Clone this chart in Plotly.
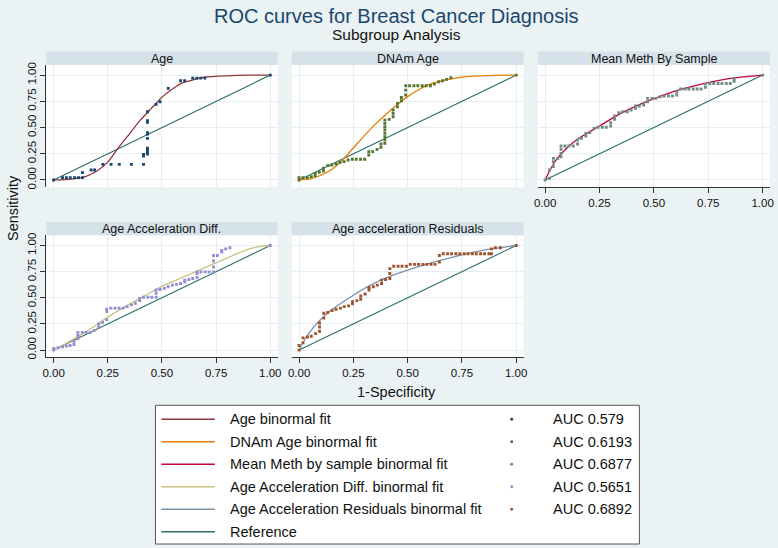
import plotly.graph_objects as go

W, H = 778, 548
FONT = "Liberation Sans, Arial, sans-serif"

# ---- data ----
TICK_VALS = [0, 0.25, 0.5, 0.75, 1]
TICK_TEXT = ["0.00", "0.25", "0.50", "0.75", "1.00"]
REF_X = [0, 1]
REF_Y = [0, 1]

# Age
age_x = [0, .041, .059, .077, .097, .115, .133, .133, .173, .189, .227, .265, .303, .359,
         .415, .415, .415, .433, .433, .433, .433, .433, .433, .433, .433, .433, .433,
         .473, .491, .529, .586, .605, .642, .661, .679, .698, 1]
age_y = [0, .022, .022, .022, .022, .022, .022, .07, .095, .095, .149, .149, .149, .149,
         .149, .229, .244, .248, .263, .286, .302, .397, .438, .451, .549, .565, .651,
         .721, .746, .873, .946, .946, .971, .971, .971, .971, 1]
age_fit_x = [0, .05, .1, .15, .2, .25, .3, .35, .4, .45, .5, .55, .6, .7, .8, .9, 1]
age_fit_y = [0, .003, .012, .035, .085, .17, .31, .44, .57, .68, .79, .87, .93, .98, .993, .999, 1]

# DNAm Age
dn_x = [0, 0, .018, .038, .056, .074, .074, .093, .112, .112, .132, .150, .170, .188, .207,
        .226, .245, .263, .283, .302, .321, .321, .339, .359, .377, .377,
        .395, .395, .395, .395, .395, .395, .395, .395, .415, .433, .433, .433,
        .453, .453, .471, .471, .491, .491, .491, .509, .529, .547, .567, .585, .605,
        .623, .643, .661, .679, .699, 1]
dn_y = [0, .022, .022, .022, .032, .041, .063, .073, .086, .111, .137, .143, .152, .165, .175,
        .19, .197, .197, .197, .197, .238, .27, .27, .292, .311, .343,
        .349, .381, .413, .444, .476, .508, .54, .571, .578, .603, .635, .667,
        .698, .73, .756, .787, .81, .857, .898, .898, .898, .898, .898, .898, .898,
        .914, .937, .946, .959, .975, 1]
dn_fit_x = [0, .05, .1, .15, .2, .25, .3, .35, .4, .45, .5, .55, .6, .7, .8, .9, 1]
dn_fit_y = [0, .01, .045, .1, .19, .305, .42, .53, .625, .715, .795, .86, .912, .965, .99, .998, 1]

# Mean Meth By Sample
mm_x = [0, .02, .02, .038, .038, .038, .058, .073, .073, .073, .073, .091, .109, .129, .149, .149,
        .167, .187, .187, .205, .225, .243, .263, .281, .301, .301, .319, .319, .339, .357,
        .377, .395, .415, .415, .433, .453, .453, .471, .471, .491, .509, .529, .547, .567,
        .585, .605, .605, .623, .643, .661, .681, .699, .717, .737, .737, .757, .775, .795,
        .813, .833, .851, .869, .869, 1]
mm_y = [0, .016, .095, .127, .175, .206, .206, .222, .254, .292, .324, .324, .324, .324, .343, .381,
        .397, .419, .444, .451, .492, .502, .502, .502, .514, .546, .578, .61, .641, .651,
        .651, .667, .683, .705, .705, .714, .73, .746, .778, .778, .778, .794, .8, .8,
        .8, .81, .841, .867, .867, .867, .867, .867, .867, .883, .914, .92, .92, .92,
        .92, .92, .92, .94, .965, 1]
mm_fit_x = [0, .02, .05, .1, .15, .2, .25, .3, .35, .4, .5, .6, .7, .8, .9, 1]
mm_fit_y = [0, .085, .19, .305, .39, .455, .515, .578, .637, .688, .775, .85, .905, .95, .98, 1]

# Age Acceleration Diff.
ad_x = [0, 0, .021, .041, .059, .076, .094, .094, .112, .112, .112, .132, .15, .17, .188,
        .208, .208, .226, .245, .245, .245, .264, .283, .302, .321, .339, .359, .377,
        .397, .397, .415, .435, .453, .473, .473, .473, .491, .511, .529, .548, .567,
        .586, .605, .605, .624, .642, .662, .662, .662, .68, .7, .718, .738, .738, .738,
        .738, .756, .776, .776, .794, .814, 1]
ad_y = [0, .016, .022, .032, .038, .044, .054, .085, .107, .139, .17, .17, .17, .17, .189,
        .221, .252, .265, .29, .369, .391, .401, .401, .401, .401, .416, .432, .448,
        .473, .495, .505, .505, .505, .505, .543, .574, .58, .59, .606, .621, .628,
        .637, .653, .669, .675, .685, .694, .732, .748, .748, .748, .748, .748, .795,
        .852, .905, .905, .937, .953, .968, .978, 1]
ad_fit_x = [0, .05, .1, .15, .2, .25, .3, .35, .4, .45, .5, .55, .6, .65, .7, .75, .8, .85, .9, .95, 1]
ad_fit_y = [0, .055, .115, .175, .245, .315, .38, .44, .495, .553, .61, .655, .7, .745, .79, .835, .88,
            .925, .965, .99, 1]

# Age acceleration Residuals
rs_x = [0, 0, .018, .018, .038, .056, .076, .094, .094, .094, .114, .114, .132, .152, .17, .19,
        .208, .228, .246, .246, .266, .284, .284, .304, .322, .322, .342, .36, .38, .38, .398,
        .418, .418, .418, .436, .456, .474, .494, .512, .532, .55, .57, .588, .608, .626,
        .646, .646, .664, .684, .702, .722, .74, .76, .778, .798, .816, .836, .854, .874,
        .886, .886, .904, .927, 1]
rs_y = [0, .044, .069, .117, .126, .132, .158, .18, .221, .259, .306, .353, .36, .379, .391, .401,
        .416, .423, .442, .464, .473, .486, .517, .536, .574, .599, .606, .621, .637, .669, .675,
        .685, .732, .779, .801, .801, .801, .801, .82, .82, .82, .82, .82, .82, .82,
        .842, .905, .921, .921, .921, .921, .921, .921, .921, .921, .921, .921, .921, .921,
        .921, .968, .978, .978, 1]
rs_fit_x = [0, .02, .05, .1, .15, .2, .25, .3, .35, .4, .5, .6, .7, .8, .9, 1]
rs_fit_y = [0, .08, .175, .295, .385, .458, .525, .588, .643, .69, .765, .83, .885, .935, .972, 1]

panel_titles = ["Age", "DNAm Age", "Mean Meth By Sample", "Age Acceleration Diff.",
                "Age acceleration Residuals"]
legend_labels = ["Age binormal fit", "DNAm Age binormal fit", "Mean Meth by sample binormal fit",
                 "Age Acceleration Diff. binormal fit", "Age Acceleration Residuals binormal fit",
                 "Reference"]
auc_labels = ["AUC 0.579", "AUC 0.6193", "AUC 0.6877", "AUC 0.5651", "AUC 0.6892"]

# ---- styling / layout ----
BG = "#eaf2f3"
STRIP = "#d6e2e9"
GRID = "#e6eef1"
AXIS = "#333333"
REF_COLOR = "#2d6d66"
point_colors = ["#1a476f", "#55752f", "#6e8e84", "#938dd2", "#a0522d"]
fit_colors = ["#90353b", "#e37e00", "#c10534", "#cac27e", "#7b92a8"]

series = [(age_x, age_y, age_fit_x, age_fit_y), (dn_x, dn_y, dn_fit_x, dn_fit_y),
          (mm_x, mm_y, mm_fit_x, mm_fit_y), (ad_x, ad_y, ad_fit_x, ad_fit_y),
          (rs_x, rs_y, rs_fit_x, rs_fit_y)]

col_px = [(42.7, 276.5), (290.7, 525.0), (539.3, 774.0)]
row_px = [(62.5, 186.0), (234.5, 357.7)]
strip_px = [(49.0, 62.5), (221.0, 234.5)]
slots = [(0, 0), (0, 1), (0, 2), (1, 0), (1, 1)]


def fx(p):
    return p / W


def fy(p):
    return 1 - p / H


def label(text, x, y, size, color="#111", xanchor="center", angle=0):
    return dict(text=text, x=fx(x), y=fy(y), xref="paper", yref="paper", showarrow=False,
                xanchor=xanchor, yanchor="middle", textangle=angle,
                font=dict(size=size, color=color))


fig = go.Figure()
shapes = []
annotations = []
layout_axes = {}

for i, (r, c) in enumerate(slots):
    sx, sy, fxs, fys = series[i]
    xname = "x" if i == 0 else f"x{i + 1}"
    yname = "y" if i == 0 else f"y{i + 1}"
    # reference line
    fig.add_trace(go.Scatter(x=REF_X, y=REF_Y, mode="lines", xaxis=xname, yaxis=yname,
                             line=dict(color=REF_COLOR, width=1.1), showlegend=False,
                             hoverinfo="skip"))
    # binormal fit
    fig.add_trace(go.Scatter(x=fxs, y=fys, mode="lines", xaxis=xname, yaxis=yname,
                             line=dict(color=fit_colors[i], width=1.3, shape="spline",
                                       smoothing=0.6),
                             showlegend=False, name=legend_labels[i]))
    # empirical points
    fig.add_trace(go.Scatter(x=sx, y=sy, mode="markers", xaxis=xname, yaxis=yname,
                             marker=dict(color=point_colors[i], size=2.9, symbol="square"),
                             showlegend=False, name=panel_titles[i]))

    x0, x1 = col_px[c]
    y0, y1 = row_px[r]
    show_x = (r == 1) or (c == 2)
    show_y = c == 0
    xa = dict(domain=[fx(x0), fx(x1)], range=[-0.034, 1.034], tickvals=TICK_VALS,
              ticktext=TICK_TEXT, showgrid=True, gridcolor=GRID, gridwidth=1, zeroline=False,
              anchor=yname, tickfont=dict(size=11.5, color="#111"))
    ya = dict(domain=[fy(y1), fy(y0)], range=[-0.07, 1.097], tickvals=TICK_VALS,
              ticktext=TICK_TEXT, showgrid=True, gridcolor=GRID, gridwidth=1, zeroline=False,
              anchor=xname, tickfont=dict(size=11.5, color="#111"), tickangle=-90)
    if show_x:
        xa.update(showline=True, linecolor=AXIS, linewidth=1, ticks="outside", ticklen=5,
                  tickcolor=AXIS, showticklabels=True)
    else:
        xa.update(showline=False, ticks="", showticklabels=False)
    if show_y:
        ya.update(showline=True, linecolor=AXIS, linewidth=1, ticks="outside", ticklen=5,
                  tickcolor=AXIS, showticklabels=True)
    else:
        ya.update(showline=False, ticks="", showticklabels=False)
    layout_axes["xaxis" if i == 0 else f"xaxis{i + 1}"] = xa
    layout_axes["yaxis" if i == 0 else f"yaxis{i + 1}"] = ya

    # panel strip
    s0, s1 = strip_px[r]
    shapes.append(dict(type="rect", xref="paper", yref="paper", x0=fx(x0), x1=fx(x1),
                       y0=fy(s1), y1=fy(s0), fillcolor=STRIP, line=dict(width=0),
                       layer="below"))
    annotations.append(label(panel_titles[i], (x0 + x1) / 2, (s0 + s1) / 2 + 0.5, 12.5))

# titles
annotations.append(label("ROC curves for Breast Cancer Diagnosis", 397, 13, 20, "#1a476f"))
annotations.append(label("Subgroup Analysis", 397, 32, 15.5))
annotations.append(label("1-Specificity", 397, 393, 14.5))
annotations.append(label("Sensitivity", 9, 207, 14.5, angle=-90))

# legend box
shapes.append(dict(type="rect", xref="paper", yref="paper", x0=fx(153), x1=fx(642),
                   y0=fy(546), y1=fy(406), fillcolor="white",
                   line=dict(color="#555555", width=1)))
row_step = 22.7
for k, lab in enumerate(legend_labels):
    yc = 420 + k * row_step
    col = fit_colors[k] if k < 5 else REF_COLOR
    shapes.append(dict(type="line", xref="paper", yref="paper", x0=fx(159), x1=fx(213),
                       y0=fy(yc), y1=fy(yc), line=dict(color=col, width=1.5)))
    annotations.append(label(lab, 226, yc, 14.5, xanchor="left"))
    if k < 5:
        shapes.append(dict(type="circle", xref="paper", yref="paper", x0=fx(511.5), x1=fx(514.5),
                           y0=fy(yc + 1.5), y1=fy(yc - 1.5), fillcolor=point_colors[k],
                           line=dict(width=0)))
        annotations.append(label(auc_labels[k], 553, yc, 14.5, xanchor="left"))

fig.update_layout(
    width=W, height=H,
    margin=dict(l=0, r=0, t=0, b=0),
    paper_bgcolor=BG,
    plot_bgcolor="white",
    font=dict(family=FONT, color="#111"),
    shapes=shapes,
    annotations=annotations,
    showlegend=False,
    **layout_axes,
)

# the page's default body margin would shift the 778x548 figure out of the window
fig.write_html("out.html", config={"displayModeBar": False},
               post_script="document.body.style.margin='0';")
